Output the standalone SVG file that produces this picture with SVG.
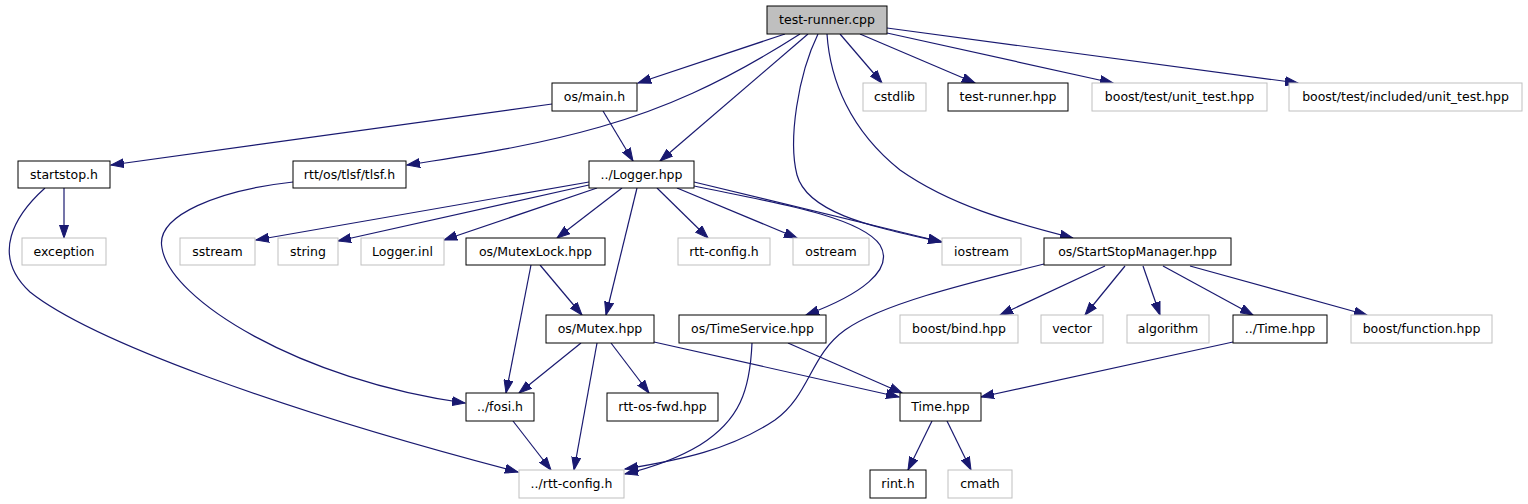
<svg xmlns="http://www.w3.org/2000/svg" width="1528" height="504" viewBox="0 0 1528 504">
<style>
.n rect{fill:#fff;stroke:#000;stroke-width:1}
.n.ext rect{stroke:#bfbfbf}
.n.root rect{fill:#bfbfbf}
.n text{font-family:"DejaVu Sans",sans-serif;font-size:12.5px;fill:#000;text-anchor:middle}
.e path{fill:none;stroke:#191970;stroke-width:1.2;marker-end:url(#a)}
</style>
<defs>
<marker id="a" markerUnits="userSpaceOnUse" markerWidth="14" markerHeight="10" refX="13" refY="4.5" orient="auto" viewBox="0 0 14 9">
<path d="M0,0 L13,4.5 L0,9 z" fill="#191970" stroke="#191970"/>
</marker>
</defs>
<rect width="1528" height="504" fill="#fff"/>
<g id="edges" class="e">
<path d="M785,34 L638,83"/>
<path d="M808,34 L660,161"/>
<path d="M800,34 C720,85 660,110 600,127 C530,147 470,155 407,165"/>
<path d="M818,34 C798,75 788,140 797,175 C808,215 880,228 941,242"/>
<path d="M840,34 L882,83"/>
<path d="M860,34 L975,83"/>
<path d="M887,33 L1113,83"/>
<path d="M887,28 L1298,83"/>
<path d="M827,34 C830,80 850,130 900,170 C950,205 1010,222 1073,238"/>
<path d="M552,104 L111,165"/>
<path d="M603,111 L633,161"/>
<path d="M64,188 L64,238"/>
<path d="M45,188 C15,215 -10,255 30,292 C90,340 280,410 518,472"/>
<path d="M293,182 C220,190 155,215 162,248 C170,300 300,380 465,403"/>
<path d="M589,182 L256,240"/>
<path d="M589,185 L338,241"/>
<path d="M597,188 L444,240"/>
<path d="M622,188 L557,238"/>
<path d="M637,188 L606,315"/>
<path d="M657,188 L708,238"/>
<path d="M677,188 L797,238"/>
<path d="M694,182 L942,242"/>
<path d="M694,186 C760,200 860,215 880,245 C895,270 860,295 806,315"/>
<path d="M540,265 L582,315"/>
<path d="M531,265 L506,393"/>
<path d="M581,343 L519,393"/>
<path d="M597,343 L574,470"/>
<path d="M611,343 L649,393"/>
<path d="M654,342 L899,397"/>
<path d="M788,343 L902,393"/>
<path d="M752,343 C750,390 740,420 700,445 C675,460 650,468 625,474"/>
<path d="M1044,264 C960,285 880,305 845,330 C810,355 810,395 775,420 C730,450 680,460 625,469"/>
<path d="M1105,266 L1000,315"/>
<path d="M1125,266 L1085,315"/>
<path d="M1143,266 L1160,315"/>
<path d="M1163,266 L1253,315"/>
<path d="M1190,266 L1367,315"/>
<path d="M1233,342 L981,397"/>
<path d="M513,421 L551,470"/>
<path d="M932,421 L908,470"/>
<path d="M947,421 L971,470"/>
</g>
<g id="n_test_runner_cpp" class="n root"><rect x="767" y="6" width="120" height="28"/><text x="827" y="24">test-runner.cpp</text></g>
<g id="n_os_main_h" class="n"><rect x="552" y="83" width="85" height="28"/><text x="594.5" y="101">os/main.h</text></g>
<g id="n_cstdlib" class="n ext"><rect x="863" y="83" width="63" height="28"/><text x="894.5" y="101">cstdlib</text></g>
<g id="n_test_runner_hpp" class="n"><rect x="948" y="83" width="120" height="28"/><text x="1008" y="101">test-runner.hpp</text></g>
<g id="n_unit_test" class="n ext"><rect x="1092" y="83" width="175" height="28"/><text x="1179.5" y="101">boost/test/unit_test.hpp</text></g>
<g id="n_included_unit_test" class="n ext"><rect x="1289" y="83" width="233" height="28"/><text x="1405.5" y="101">boost/test/included/unit_test.hpp</text></g>
<g id="n_startstop_h" class="n"><rect x="18" y="161" width="92" height="27"/><text x="64" y="179">startstop.h</text></g>
<g id="n_tlsf_h" class="n"><rect x="293" y="161" width="113" height="27"/><text x="349.5" y="179">rtt/os/tlsf/tlsf.h</text></g>
<g id="n_logger_hpp" class="n"><rect x="589" y="161" width="105" height="27"/><text x="641.5" y="179">../Logger.hpp</text></g>
<g id="n_exception" class="n ext"><rect x="22" y="238" width="84" height="27"/><text x="64" y="256">exception</text></g>
<g id="n_sstream" class="n ext"><rect x="180" y="238" width="75" height="27"/><text x="217.5" y="256">sstream</text></g>
<g id="n_string" class="n ext"><rect x="278" y="238" width="60" height="27"/><text x="308" y="256">string</text></g>
<g id="n_logger_inl" class="n ext"><rect x="361" y="238" width="83" height="27"/><text x="402.5" y="256">Logger.inl</text></g>
<g id="n_mutexlock_hpp" class="n"><rect x="466" y="238" width="139" height="27"/><text x="535.5" y="256">os/MutexLock.hpp</text></g>
<g id="n_rtt_config_h" class="n ext"><rect x="678" y="238" width="92" height="27"/><text x="724" y="256">rtt-config.h</text></g>
<g id="n_ostream" class="n ext"><rect x="793" y="238" width="76" height="27"/><text x="831" y="256">ostream</text></g>
<g id="n_iostream" class="n ext"><rect x="942" y="238" width="79" height="27"/><text x="981.5" y="256">iostream</text></g>
<g id="n_startstopmanager_hpp" class="n"><rect x="1044" y="238" width="187" height="27"/><text x="1137.5" y="256">os/StartStopManager.hpp</text></g>
<g id="n_mutex_hpp" class="n"><rect x="546" y="315" width="108" height="28"/><text x="600" y="333">os/Mutex.hpp</text></g>
<g id="n_timeservice_hpp" class="n"><rect x="679" y="315" width="147" height="28"/><text x="752.5" y="333">os/TimeService.hpp</text></g>
<g id="n_bind_hpp" class="n ext"><rect x="900" y="315" width="118" height="28"/><text x="959" y="333">boost/bind.hpp</text></g>
<g id="n_vector" class="n ext"><rect x="1041" y="315" width="62" height="28"/><text x="1072" y="333">vector</text></g>
<g id="n_algorithm" class="n ext"><rect x="1127" y="315" width="82" height="28"/><text x="1168" y="333">algorithm</text></g>
<g id="n_time_hpp_up" class="n"><rect x="1233" y="315" width="94" height="28"/><text x="1280" y="333">../Time.hpp</text></g>
<g id="n_function_hpp" class="n ext"><rect x="1351" y="315" width="141" height="28"/><text x="1421.5" y="333">boost/function.hpp</text></g>
<g id="n_fosi_h" class="n"><rect x="466" y="393" width="68" height="28"/><text x="500" y="411">../fosi.h</text></g>
<g id="n_rtt_os_fwd_hpp" class="n"><rect x="607" y="393" width="111" height="28"/><text x="662.5" y="411">rtt-os-fwd.hpp</text></g>
<g id="n_time_hpp" class="n"><rect x="900" y="393" width="81" height="28"/><text x="940.5" y="411">Time.hpp</text></g>
<g id="n_rtt_config_h_up" class="n ext"><rect x="519" y="470" width="105" height="28"/><text x="571.5" y="488">../rtt-config.h</text></g>
<g id="n_rint_h" class="n"><rect x="870" y="470" width="56" height="28"/><text x="898" y="488">rint.h</text></g>
<g id="n_cmath" class="n ext"><rect x="948" y="470" width="64" height="28"/><text x="980" y="488">cmath</text></g>
</svg>
